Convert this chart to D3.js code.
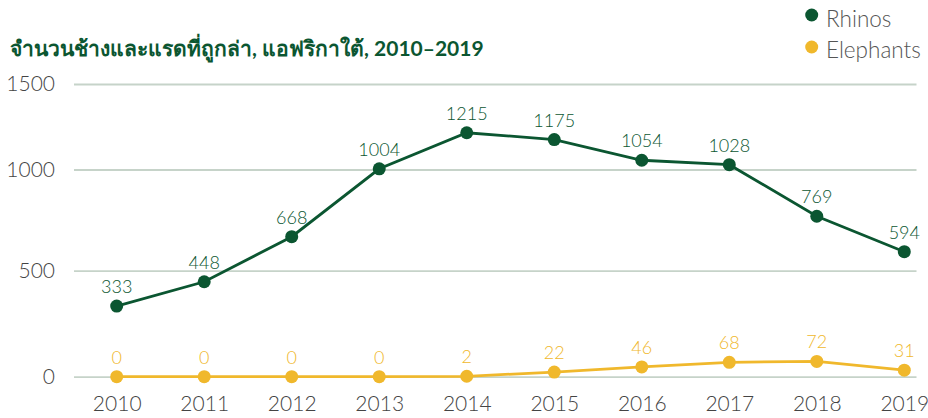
<!DOCTYPE html>
<html>
<head>
<meta charset="utf-8">
<script src="https://cdn.jsdelivr.net/npm/d3@7"></script>
<style>
  html, body { margin: 0; padding: 0; background: #fff; }
  svg { display: block; font-family: Lato, "Noto Sans", sans-serif; }
</style>
</head>
<body>
<svg id="chart" width="928" height="418"></svg>
<script>
const years = [2010, 2011, 2012, 2013, 2014, 2015, 2016, 2017, 2018, 2019];
const rhinos = [333, 448, 668, 1004, 1215, 1175, 1054, 1028, 769, 594];
const elephants = [0, 0, 0, 0, 2, 22, 46, 68, 72, 31];
const yTicks = [0, 500, 1000, 1500];
const seriesNames = ["Rhinos", "Elephants"];
const title = "จำนวนช้างและแรดที่ถูกล่า, แอฟริกาใต้, 2010–2019";

const colors = { Rhinos: "#0b5631", Elephants: "#f0b82c" };

const svg = d3.select("#chart");

const x = d3.scalePoint().domain(years).range([116.7, 904.3]);
const y = d3.scaleLinear().domain([0, 500, 1000, 1500]).range([376.7, 270.7, 169.5, 84]);

// gridlines + y labels
const yAxis = d3.axisLeft(y).tickValues(yTicks).tickSize(-(916.5 - 74)).tickPadding(19).tickFormat(d3.format("d"));
const gy = svg.append("g").attr("transform", "translate(74,0)").call(yAxis);
gy.select(".domain").remove();
gy.selectAll(".tick line").attr("stroke", "#c6d3c9").attr("stroke-width", 1.8);
gy.selectAll(".tick text").attr("fill", "#444").attr("font-size", 21).attr("font-weight", 300).attr("font-family", "Lato, sans-serif");

// x labels
const xAxis = d3.axisBottom(x).tickSize(0).tickPadding(0);
const gx = svg.append("g").attr("transform", "translate(0,396)").call(xAxis);
gx.select(".domain").remove();
gx.selectAll(".tick text").attr("fill", "#444").attr("font-size", 21).attr("font-weight", 300).attr("font-family", "Lato, sans-serif").attr("dy", "0.71em").attr("y", 0);

const data = [
  { name: "Elephants", values: elephants },
  { name: "Rhinos", values: rhinos }
];

const line = d3.line().x((d, i) => x(years[i])).y(d => y(d));

data.forEach(s => {
  const g = svg.append("g");
  g.append("path").datum(s.values)
    .attr("d", line)
    .attr("fill", "none")
    .attr("stroke", colors[s.name])
    .attr("stroke-width", 2.8);
  g.selectAll("circle").data(s.values).join("circle")
    .attr("cx", (d, i) => x(years[i]))
    .attr("cy", d => y(d))
    .attr("r", 6.5)
    .attr("fill", colors[s.name]);
  g.selectAll("text").data(s.values).join("text")
    .attr("x", (d, i) => x(years[i]))
    .attr("y", d => y(d) - 13)
    .attr("text-anchor", "middle")
    .attr("font-size", 18)
    .attr("font-weight", 300)
    .attr("fill", colors[s.name])
    .text(d => d);
});

// title
svg.append("text")
  .attr("x", 10).attr("y", 56)
  .attr("font-size", 21)
  .attr("font-weight", "bold")
  .attr("fill", "#0b5631")
  .text(title);

// legend
const legend = svg.append("g");
seriesNames.forEach((n, i) => {
  legend.append("circle")
    .attr("cx", 811.7).attr("cy", 15 + i * 32)
    .attr("r", 6.5).attr("fill", colors[n]);
  legend.append("text")
    .attr("x", 826).attr("y", 27 + i * 31)
    .attr("font-size", 22.5)
    .attr("font-weight", 300)
    .attr("fill", "#555")
    .text(n);
});
</script>
</body>
</html>
